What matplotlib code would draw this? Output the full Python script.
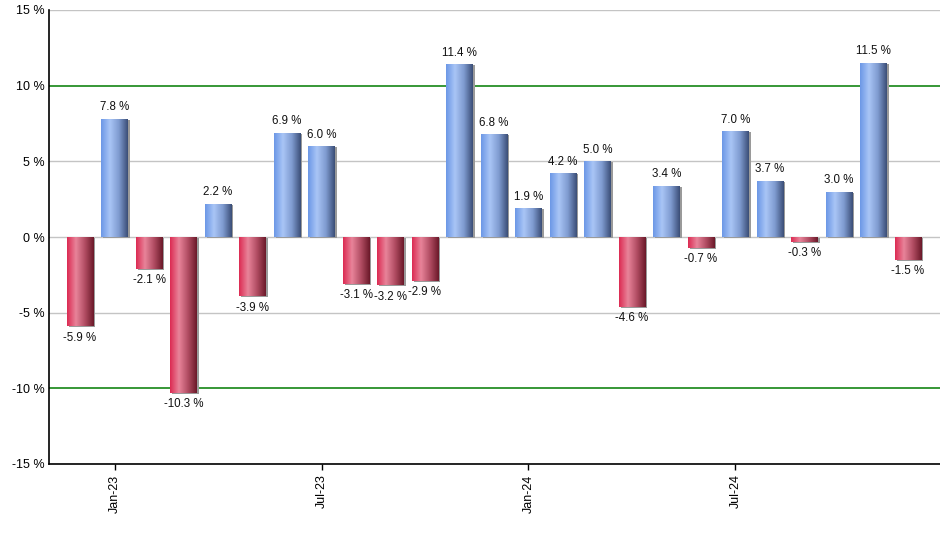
import numpy as np
import matplotlib
matplotlib.use("Agg")
import matplotlib.pyplot as plt
from matplotlib.colors import LinearSegmentedColormap
import matplotlib.transforms as mtransforms

plt.rcParams['font.family'] = ['Liberation Sans', 'DejaVu Sans']

months = ["Dec-22", "Jan-23", "Feb-23", "Mar-23", "Apr-23", "May-23", "Jun-23", "Jul-23",
          "Aug-23", "Sep-23", "Oct-23", "Nov-23", "Dec-23", "Jan-24", "Feb-24", "Mar-24",
          "Apr-24", "May-24", "Jun-24", "Jul-24", "Aug-24", "Sep-24", "Oct-24", "Nov-24", "Dec-24"]
returns = [-5.9, 7.8, -2.1, -10.3, 2.2, -3.9, 6.9, 6.0, -3.1, -3.2, -2.9, 11.4, 6.8,
           1.9, 4.2, 5.0, -4.6, 3.4, -0.7, 7.0, 3.7, -0.3, 3.0, 11.5, -1.5]
tick_labels = ["Jan-23", "Jul-23", "Jan-24", "Jul-24"]
yticks = [-15, -10, -5, 0, 5, 10, 15]

fig = plt.figure(figsize=(9.4, 5.5), dpi=100)
ax = fig.add_axes([49/940, 1-464/550, 891/940, 454/550])

x = np.arange(len(returns))
blue_cmap = LinearSegmentedColormap.from_list("b", ["#6b97e6", "#a9c5f6", "#7f9bd0", "#3a4d76"], N=256)
red_cmap = LinearSegmentedColormap.from_list("r", ["#dc2a52", "#e8849a", "#b24d63", "#6a1828"], N=256)
grad = np.linspace(0, 1, 256).reshape(1, -1)

width = 0.76
shadow = mtransforms.offset_copy(ax.transData, fig=fig, x=2, y=-1, units='dots')
ax.bar(x, returns, width=width, color="#9a9a9a", zorder=2, transform=shadow)
bars = ax.bar(x, returns, width=width, color="none", zorder=3)
for b, v in zip(bars, returns):
    x0, y0 = b.get_x(), b.get_y()
    w, h = b.get_width(), b.get_height()
    cmap = blue_cmap if v >= 0 else red_cmap
    im = ax.imshow(grad, cmap=cmap, aspect='auto', extent=(x0, x0 + w, y0, y0 + h),
                   zorder=3, interpolation='bilinear')
    im.set_clip_path(b)
    lbl = f"{v:.1f} %"
    if v >= 0:
        ax.annotate(lbl, (x0 + w/2, v), xytext=(0, 4), textcoords='offset points',
                    ha='center', va='bottom', fontsize=8.3, color="#111111", zorder=5)
    else:
        ax.annotate(lbl, (x0 + w/2, v), xytext=(0, -4), textcoords='offset points',
                    ha='center', va='top', fontsize=8.3, color="#111111", zorder=5)

ax.set_xlim(-0.9, len(returns) - 1 + 0.93)
ax.set_ylim(-15, 15)
ax.set_yticks(yticks)
ax.set_yticklabels([f"{t} %" for t in yticks], fontsize=9)
for t in yticks:
    if abs(t) == 10:
        ax.axhline(t, color="#007a00", lw=1.1, zorder=1)
    else:
        ax.axhline(t, color="#c4c4c4", lw=1.0, zorder=1)

tick_pos = [months.index(m) for m in tick_labels]
ax.set_xticks(tick_pos)
ax.set_xticklabels(tick_labels, rotation=90, fontsize=9)
ax.tick_params(axis='x', length=4, width=1, color='black')
ax.tick_params(axis='y', length=0, pad=3)

for s in ["top", "right"]:
    ax.spines[s].set_visible(False)
ax.spines["left"].set_color("black")
ax.spines["bottom"].set_color("black")
ax.spines["left"].set_linewidth(1.2)
ax.spines["bottom"].set_linewidth(1.2)
ax.spines["left"].set_zorder(6)
ax.spines["bottom"].set_zorder(6)

fig.savefig("out.png", dpi=100)
